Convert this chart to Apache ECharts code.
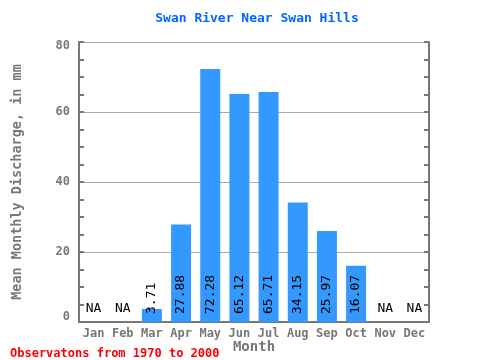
<!DOCTYPE html>
<html><head><meta charset="utf-8">
<script src="https://cdn.jsdelivr.net/npm/echarts@6/dist/echarts.min.js"></script>
<style>html,body{margin:0;padding:0;background:#fff}#c{width:480px;height:360px}</style>
</head><body><div id="c"></div>
<script>
const months = ['Jan','Feb','Mar','Apr','May','Jun','Jul','Aug','Sep','Oct','Nov','Dec'];
const discharge = [null, null, 3.71, 27.88, 72.28, 65.12, 65.71, 34.15, 25.97, 16.07, null, null];
const yTicks = [0, 20, 40, 60, 80];
const titleText = 'Swan River Near Swan Hills';
const yName = 'Mean Monthly Discharge, in mm';
const xName = 'Month';
const noteText = 'Observatons from 1970 to 2000';

const mono = 'DejaVu Sans Mono';
const axisCol = '#777777';
const chart = echarts.init(document.getElementById('c'), null, {renderer: 'canvas'});
const yMin = yTicks[0], yMax = yTicks[yTicks.length - 1];
const barData = discharge.map(v => v === null
  ? {value: 0, label: {rotate: 0, formatter: 'NA', align: 'center', verticalAlign: 'bottom', offset: [0, 1]}}
  : {value: v});
chart.setOption({
  animation: false,
  title: [{
    text: titleText, left: 252, top: 7, textAlign: 'center',
    textStyle: {color: '#0066FF', fontFamily: mono, fontWeight: 'bold', fontSize: 13}
  }, {
    text: noteText, left: 5, top: 343,
    textStyle: {color: '#FF0000', fontFamily: mono, fontWeight: 'bold', fontSize: 12}
  }],
  grid: {left: 79, right: 51, top: 42, bottom: 38, containLabel: false, outerBoundsMode: 'none'},
  xAxis: [{
    type: 'category', data: months, position: 'bottom',
    name: xName, nameLocation: 'middle', nameGap: 18, nameMoveOverlap: false,
    nameTextStyle: {color: axisCol, fontFamily: mono, fontWeight: 'bold', fontSize: 14},
    axisLine: {lineStyle: {color: axisCol, width: 2}},
    axisTick: {inside: true, length: 5, lineStyle: {color: axisCol, width: 2}},
    axisLabel: {color: axisCol, fontFamily: mono, fontWeight: 'bold', fontSize: 12, margin: 6}
  }, {
    type: 'category', data: months, position: 'top',
    axisLine: {lineStyle: {color: axisCol, width: 2}},
    axisTick: {inside: true, length: 5, lineStyle: {color: axisCol, width: 2}},
    axisLabel: {show: false}
  }],
  yAxis: [{
    type: 'value', min: yMin, max: yMax, interval: 20,
    name: yName, nameLocation: 'middle', nameGap: 55, nameMoveOverlap: false,
    nameTextStyle: {color: axisCol, fontFamily: mono, fontWeight: 'bold', fontSize: 13.5},
    axisLine: {show: true, lineStyle: {color: axisCol, width: 2}},
    axisTick: {show: true, inside: true, length: 5, lineStyle: {color: axisCol, width: 2}},
    minorTick: {show: true, splitNumber: 4, length: 5, lineStyle: {color: axisCol, width: 2}},
    splitLine: {show: true, lineStyle: {color: '#aaaaaa', width: 1}},
    axisLabel: {
      color: axisCol, fontFamily: mono, fontWeight: 'bold', fontSize: 12, margin: 9,
      formatter: v => v === yMin ? '{lo|' + v + '}' : (v === yMax ? '{hi|' + v + '}' : String(v)),
      rich: {
        lo: {color: axisCol, fontFamily: mono, fontWeight: 'bold', fontSize: 12, padding: [0, 0, 10, 0]},
        hi: {color: axisCol, fontFamily: mono, fontWeight: 'bold', fontSize: 12, padding: [8, 0, 0, 0]}
      }
    }
  }, {
    type: 'value', min: yMin, max: yMax, interval: 20, position: 'right',
    axisLine: {show: true, lineStyle: {color: axisCol, width: 2}},
    axisTick: {show: true, inside: true, length: 5, lineStyle: {color: axisCol, width: 2}},
    minorTick: {show: true, splitNumber: 4, length: 5, lineStyle: {color: axisCol, width: 2}},
    splitLine: {show: false},
    axisLabel: {show: false}
  }],
  series: [{
    type: 'bar', data: barData, barWidth: 20, xAxisIndex: 0, yAxisIndex: 0,
    itemStyle: {color: '#3399FF'},
    label: {
      show: true, position: 'insideBottom', rotate: 90, align: 'left', verticalAlign: 'middle',
      distance: 8, color: '#000', fontFamily: mono, fontSize: 13,
      formatter: p => p.value.toFixed(2)
    }
  }]
});
</script></body></html>
